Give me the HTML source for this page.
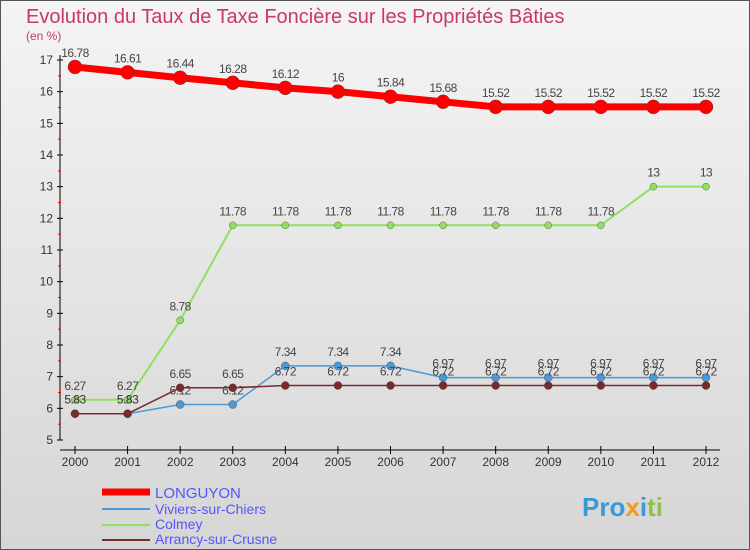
<!DOCTYPE html>
<html><head><meta charset="utf-8"><style>
body{margin:0;}
svg{display:block;font-family:"Liberation Sans",sans-serif;}
</style></head><body>
<svg id="c" width="750" height="550">
<defs><linearGradient id="bg" x1="0" y1="0" x2="0" y2="1"><stop offset="0" stop-color="#f4f4f4"/><stop offset="1" stop-color="#d6d6d6"/></linearGradient></defs>
<rect x="0.5" y="0.5" width="749" height="549" fill="url(#bg)" stroke="#555"/>
<text x="26" y="23" font-size="20" fill="#c8386a">Evolution du Taux de Taxe Foncière sur les Propriétés Bâties</text>
<text x="26" y="40" font-size="12" fill="#c8386a">(en %)</text>
<g id="axes"></g><g id="series"></g>
<g>
<line x1="102" y1="492" x2="150" y2="492" stroke="#f00" stroke-width="7"/>
<text x="155" y="498" font-size="15" fill="#5555ff">LONGUYON</text>
<line x1="102" y1="509" x2="150" y2="509" stroke="#4a9ad8" stroke-width="2"/>
<text x="155" y="514" font-size="14" fill="#5555ff">Viviers-sur-Chiers</text>
<line x1="102" y1="525" x2="150" y2="525" stroke="#8fe060" stroke-width="2"/>
<text x="155" y="529" font-size="14" fill="#5555ff">Colmey</text>
<line x1="102" y1="540" x2="150" y2="540" stroke="#7a2a2a" stroke-width="2"/>
<text x="155" y="544" font-size="14" fill="#5555ff">Arrancy-sur-Crusne</text>
</g>
<text x="582" y="516" font-size="26" font-weight="bold" fill="#3a9ad8">Pro<tspan fill="#f39a1f">x</tspan>i<tspan fill="#8bc34a">ti</tspan></text>
</svg>
<script>
const years=[2000,2001,2002,2003,2004,2005,2006,2007,2008,2009,2010,2011,2012];
const yTicks=[5,6,7,8,9,10,11,12,13,14,15,16,17];
const longuyon=[16.78,16.61,16.44,16.28,16.12,16,15.84,15.68,15.52,15.52,15.52,15.52,15.52];
const viviers=[5.83,5.83,6.12,6.12,7.34,7.34,7.34,6.97,6.97,6.97,6.97,6.97,6.97];
const colmey=[6.27,6.27,8.78,11.78,11.78,11.78,11.78,11.78,11.78,11.78,11.78,13,13];
const arrancy=[5.83,5.83,6.65,6.65,6.72,6.72,6.72,6.72,6.72,6.72,6.72,6.72,6.72];
const NS="http://www.w3.org/2000/svg";
const X=i=>75+i*(706-75)/12;
const Y=v=>440-(v-5)*(380/12);
function mk(t,a,p){const e=document.createElementNS(NS,t);for(const k in a)e.setAttribute(k,a[k]);p.appendChild(e);return e;}
const ax=document.getElementById('axes'),sg=document.getElementById('series');
const yl=mk('line',{x1:60,y1:55,x2:60,y2:440,stroke:'#000'},ax);


const xl=mk('line',{x1:60,y1:450,x2:720,y2:450,stroke:'#000'},ax);


yTicks.forEach(v=>{
 mk('line',{x1:57,y1:Y(v),x2:63,y2:Y(v),stroke:'#000'},ax);
 if(v<17)mk('line',{x1:58,y1:Y(v+0.5),x2:61,y2:Y(v+0.5),stroke:'#f00'},ax);
 const t=mk('text',{x:53,y:Y(v)+4,'font-size':12,'text-anchor':'end',fill:'#333'},ax);t.textContent=v;
 
 
});
years.forEach((y,i)=>{
 mk('line',{x1:X(i),y1:446,x2:X(i),y2:454,stroke:'#000'},ax);
 const t=mk('text',{x:X(i),y:466,'font-size':12,'text-anchor':'middle',fill:'#333'},ax);t.textContent=y;
 
 
});
function series(d,col,w,r,name,lab){
 const g=mk('g',{},sg);
 
 
 mk('polyline',{points:d.map((v,i)=>X(i)+','+Y(v)).join(' '),fill:'none',stroke:col,'stroke-width':w},g);
 d.forEach((v,i)=>{
  const c=mk('circle',{cx:X(i),cy:Y(v),r:r,fill:col,stroke:'#444','stroke-width':0.4},g);
  
  
  if(lab){const t=mk('text',{x:X(i),y:Y(v)-10,'font-size':12,'text-anchor':'middle',fill:'#444','letter-spacing':'-0.5'},g);t.textContent=v;
  
  }
 });
}
series(colmey,'#8fe060',2,3.5,'colmey',true);
series(viviers,'#4a9ad8',1.5,4,'viviers',true);
series(arrancy,'#7a2a2a',1.5,4,'arrancy',true);
series(longuyon,'#f00',7,7,'longuyon',true);
</script>
</body></html>
